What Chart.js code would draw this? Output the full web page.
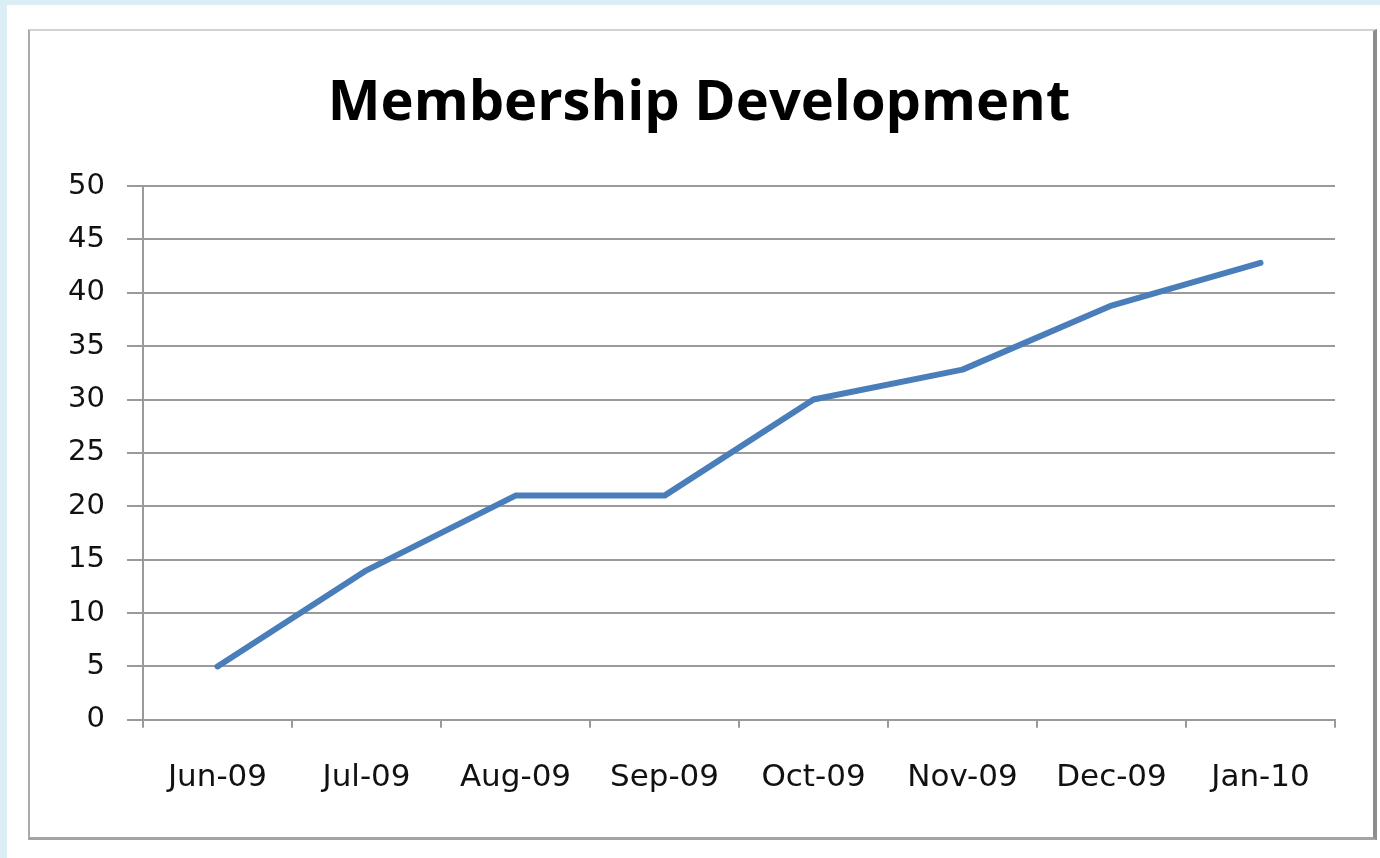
<!DOCTYPE html>
<html>
<head>
<meta charset="utf-8">
<script src="https://cdn.jsdelivr.net/npm/chart.js@4/dist/chart.umd.min.js"></script>
<style>
  html, body { margin: 0; padding: 0; }
  body { width: 1380px; height: 858px; background: #dceef5; position: relative; overflow: hidden; }
  #panel { position: absolute; left: 7px; top: 5px; right: 0; bottom: 0; background: #ffffff; }
  #frame { position: absolute; left: 28px; top: 29px; width: 1349px; height: 811px;
           border-top: 2px solid #d2d2d2; border-left: 2px solid #a9a9a9;
           border-bottom: 3px solid #a3a3a3; border-right: 4px solid #8d8d8d; box-sizing: border-box; }
  #c { position: absolute; left: 0; top: 0; z-index: 2; }
</style>
</head>
<body>
<div id="panel"></div>
<div id="frame"></div>
<canvas id="c" width="1380" height="858"></canvas>
<script>
const chartTitle = 'Membership Development';
const months = ['Jun-09', 'Jul-09', 'Aug-09', 'Sep-09', 'Oct-09', 'Nov-09', 'Dec-09', 'Jan-10'];
const members = [5, 14, 21, 21, 30, 32.8, 38.8, 42.8];
const yMin = 0, yMax = 50, yStep = 5;

// fit the title font so it spans about the same width as the reference
const titleFamily = '"Open Sans", "DejaVu Sans", sans-serif';
const mctx = document.createElement('canvas').getContext('2d');
let titleSize = 60;
mctx.font = 'bold ' + titleSize + 'px ' + titleFamily;
titleSize = Math.round(titleSize * 746 / mctx.measureText(chartTitle).width);

const titleLine = 1.2;
const padTop = 70;
const padLeft = 63;
const titleBlock = titleSize * titleLine;

new Chart(document.getElementById('c'), {
  type: 'line',
  data: {
    labels: months,
    datasets: [{
      label: 'Members',
      data: members,
      borderColor: '#4a7ebb',
      borderWidth: 6,
      pointRadius: 0,
      pointHoverRadius: 0,
      tension: 0,
      fill: false,
      borderCapStyle: 'round',
      borderJoinStyle: 'round'
    }]
  },
  options: {
    responsive: false,
    devicePixelRatio: 1,
    animation: false,
    layout: { padding: { top: padTop, left: padLeft, right: 45, bottom: 29 } },
    plugins: {
      legend: { display: false },
      tooltip: { enabled: false },
      title: {
        display: true,
        text: chartTitle,
        color: '#000000',
        font: { family: titleFamily, size: titleSize, weight: 'bold', lineHeight: titleLine },
        padding: { top: 0, bottom: 186 - padTop - titleBlock }
      }
    },
    scales: {
      x: {
        type: 'category',
        offset: true,
        grid: {
          offset: true,
          drawOnChartArea: false,
          drawTicks: true,
          tickLength: 8,
          color: '#9a9a9a',
          lineWidth: 2
        },
        border: { display: true, color: '#9a9a9a', width: 2 },
        ticks: {
          color: '#111111',
          font: { family: '"DejaVu Sans", sans-serif', size: 31, lineHeight: 1.2 },
          padding: 32,
          maxRotation: 0,
          autoSkip: false
        }
      },
      y: {
        min: yMin,
        max: yMax,
        afterFit: (s) => { s.width = 143 - padLeft; },
        grid: {
          color: '#9a9a9a',
          lineWidth: 2,
          drawTicks: true,
          tickLength: 16
        },
        border: { display: true, color: '#9a9a9a', width: 2 },
        ticks: {
          stepSize: yStep,
          color: '#111111',
          font: { family: '"DejaVu Sans", sans-serif', size: 29 },
          padding: 22
        }
      }
    }
  }
});
</script>
</body>
</html>
